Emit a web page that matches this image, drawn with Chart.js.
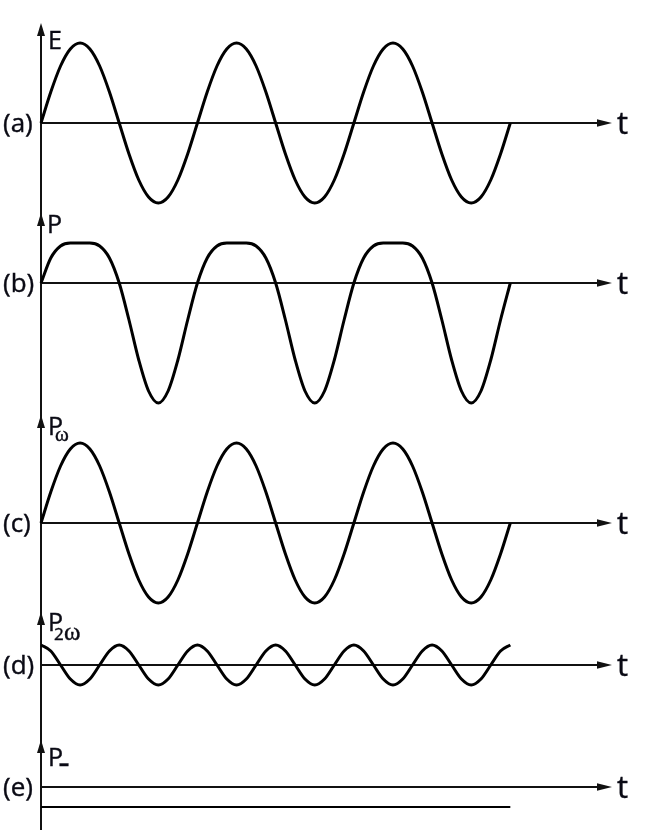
<!DOCTYPE html>
<html><head><meta charset="utf-8">
<script src="https://cdn.jsdelivr.net/npm/chart.js@4.4.1/dist/chart.umd.min.js"></script>
<style>
html,body{margin:0;padding:0;background:#fff;}
#wrap{position:relative;width:649px;height:839px;overflow:hidden;background:#fff;}
#c{position:absolute;left:0;top:0;}
.lbl{position:absolute;white-space:nowrap;line-height:1;color:#0a0a14;margin:0;padding:0;-webkit-text-stroke:0.4px #0a0a14;}
</style></head><body>
<div id="wrap"><canvas id="c" width="649" height="839"></canvas></div>
<script>
// ---- data (time in 1/16 of a period, 3 periods) ----
const tSteps = [0,1,2,3,4,5,6,7,8,9,10,11,12,13,14,15,16,17,18,19,20,21,22,23,24,25,26,27,28,29,30,31,32,33,34,35,36,37,38,39,40,41,42,43,44,45,46,47,48];
const E = [0,31,57,74,80,74,57,31,0,-31,-57,-74,-80,-74,-57,-31,
           0,31,57,74,80,74,57,31,0,-31,-57,-74,-80,-74,-57,-31,
           0,31,57,74,80,74,57,31,0,-31,-57,-74,-80,-74,-57,-31,0];
const P = [0,25,37,40,40,40,37,25,0,-37,-77,-108,-120,-108,-77,-37,
           0,25,37,40,40,40,37,25,0,-37,-77,-108,-120,-108,-77,-37,
           0,25,37,40,40,40,37,25,0,-37,-77,-108,-120,-108,-77,-37,0];
const P_omega = [0,31,57,74,80,74,57,31,0,-31,-57,-74,-80,-74,-57,-31,
                 0,31,57,74,80,74,57,31,0,-31,-57,-74,-80,-74,-57,-31,
                 0,31,57,74,80,74,57,31,0,-31,-57,-74,-80,-74,-57,-31,0];
const P_2omega = [20,14,0,-14,-20,-14,0,14,20,14,0,-14,-20,-14,0,14,
                  20,14,0,-14,-20,-14,0,14,20,14,0,-14,-20,-14,0,14,
                  20,14,0,-14,-20,-14,0,14,20,14,0,-14,-20,-14,0,14,20];
const tDc = [0,48];
const P_dc = [-20,-20];
const panelTags = ['(a)','(b)','(c)','(d)','(e)'];
const axisLabel = 't';

// ---- layout / style ----
const panels = [
  {id:'ya', min:-707, max:100, arrowVal:100},
  {id:'yb', min:-547, max:260, arrowVal:70},
  {id:'yc', min:-307, max:500, arrowVal:108},
  {id:'yd', min:-165, max:642, arrowVal:53},
  {id:'ye', min:-43,  max:764, arrowVal:47}
];
const SANS = "'Open Sans', sans-serif", SERIF = "'Liberation Serif', 'DejaVu Serif', serif";
const RATIO = {sans:0.888, serif:0.8375};
// title pieces: dx from axis, dy = baseline below arrow tip
const titles = [
  [{t:'E', f:'sans', s:25, dx:7, dy:26}],
  [{t:'P', f:'sans', s:25, dx:6, dy:20}],
  [{t:'P', f:'sans', s:25, dx:7, dy:20}, {t:'ω', f:'serif', s:21, dx:14, dy:27}],
  [{t:'P', f:'sans', s:25, dx:7, dy:19}, {t:'2', f:'sans', s:17, dx:13, dy:28}, {t:'ω', f:'serif', s:25, dx:23, dy:28}],
  [{t:'P', f:'sans', s:25, dx:7, dy:26}, {t:'–', f:'sans', s:20, dx:18, dy:31, w:800}]
];

function pts(xs, ys){ return xs.map((x,i)=>({x:x, y:ys[i]})); }
function ds(xs, ys, axis){
  return {data:pts(xs,ys), yAxisID:axis, borderColor:'#000', borderWidth:3, pointRadius:0,
          cubicInterpolationMode:'monotone', fill:false, clip:false};
}

const scales = {x:{type:'linear', min:0, max:58.4, display:false}};
panels.forEach(p=>{ scales[p.id] = {type:'linear', min:p.min, max:p.max, display:false}; });

const axesPlugin = {
  id:'axesPlugin',
  beforeDatasetsDraw(chart){
    const ctx=chart.ctx, ca=chart.chartArea, xs=chart.scales.x;
    const x0 = xs.getPixelForValue(0), xEnd = ca.right;
    ctx.save();
    ctx.strokeStyle='#111'; ctx.fillStyle='#111';
    ctx.lineWidth=2;
    ctx.beginPath(); ctx.moveTo(x0, ca.bottom); ctx.lineTo(x0, ca.top+6); ctx.stroke();
    panels.forEach(p=>{
      const ys=chart.scales[p.id]; const z=ys.getPixelForValue(0);
      ctx.lineWidth=1.8;
      ctx.beginPath(); ctx.moveTo(x0,z); ctx.lineTo(xEnd-8,z); ctx.stroke();
      ctx.beginPath(); ctx.moveTo(xEnd,z); ctx.lineTo(xEnd-15,z-3.8); ctx.lineTo(xEnd-15,z+3.8); ctx.closePath(); ctx.fill();
      const tip=ys.getPixelForValue(p.arrowVal);
      ctx.beginPath(); ctx.moveTo(x0,tip); ctx.lineTo(x0-4,tip+13); ctx.lineTo(x0+4,tip+13); ctx.closePath(); ctx.fill();
    });
    ctx.restore();
  },
  afterRender(chart){
    if (chart._lblDone) return; chart._lblDone = true;
    const wrap=document.getElementById('wrap');
    const xs=chart.scales.x, x0=xs.getPixelForValue(0), xEnd=chart.chartArea.right;
    function add(text, fam, size, left, baseline, weight){
      const s=document.createElement('span'); s.className='lbl'; s.textContent=text;
      s.style.fontFamily = fam==='serif'?SERIF:SANS; s.style.fontSize=size+'px';
      if (weight) s.style.fontWeight=weight;
      s.style.left=left+'px'; s.style.top=(baseline-RATIO[fam]*size)+'px';
      wrap.appendChild(s);
    }
    panels.forEach((p,i)=>{
      const ys=chart.scales[p.id]; const z=ys.getPixelForValue(0); const tip=ys.getPixelForValue(p.arrowVal);
      add(panelTags[i], 'sans', 26, 3, z+9);
      add(axisLabel, 'sans', 31, xEnd+5, z+12);
      titles[i].forEach(q=>add(q.t, q.f, q.s, x0+q.dx, tip+q.dy, q.w));
    });
  }
};

new Chart(document.getElementById('c'), {
  type:'line',
  data:{datasets:[
    ds(tSteps, E, 'ya'),
    ds(tSteps, P, 'yb'),
    ds(tSteps, P_omega, 'yc'),
    ds(tSteps, P_2omega, 'yd'),
    Object.assign(ds(tDc, P_dc, 'ye'), {borderWidth:2.2})
  ]},
  options:{
    responsive:false, animation:false, events:[],
    layout:{padding:{left:41, right:37, top:23, bottom:9}},
    scales:scales,
    plugins:{legend:{display:false}, tooltip:{enabled:false}}
  },
  plugins:[axesPlugin]
});
</script>
</body></html>
